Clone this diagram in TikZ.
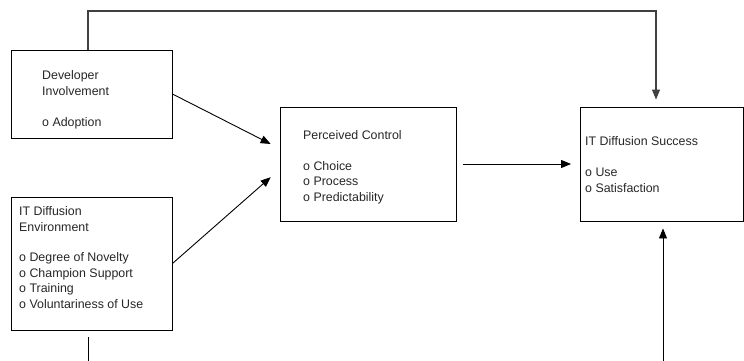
\documentclass[tikz,border=0pt]{standalone}
\usepackage{fontspec}
\setmainfont{Liberation Sans}
\usetikzlibrary{arrows.meta,calc}

\begin{document}
\begin{tikzpicture}[x=1pt,y=-1pt,
  box/.style={draw=black,line width=0.9pt,inner sep=0pt,rectangle},
  lbl/.style={inner sep=0pt,anchor=base west,align=left,text=black!85,
    font=\fontsize{12.4}{15.4}\selectfont},
  conn/.style={draw=black,line width=0.9pt},
  tip/.style={-{Triangle[length=10pt,width=8pt]}}
]
\useasboundingbox (0,0) rectangle (744,360);
\clip (0,0) rectangle (744,360);

% boxes
\node[box,minimum width=161pt,minimum height=88pt]  (dev)  at (91.5,94) {};
\node[box,minimum width=161pt,minimum height=133pt] (env)  at (91.5,263.5) {};
\node[box,minimum width=176pt,minimum height=114pt] (pc)   at (368,164) {};
\node[box,minimum width=163pt,minimum height=114pt] (succ) at (662,164) {};

% box texts (anchored at the baseline of their last line)
\node[lbl] (devtxt) at (42,126) {Developer\\Involvement\\[15.4pt]o Adoption};
\node[lbl] (envtxt) at (19,308) {IT Diffusion\\Environment\\[15.4pt]o Degree of Novelty\\o Champion Support\\o Training\\o Voluntariness of Use};
\node[lbl] (pctxt) at (303,201) {Perceived Control\\[15.4pt]o Choice\\o Process\\o Predictability};
\node[lbl] (succtxt) at (585,192) {IT Diffusion Success\\[15.4pt]o Use\\o Satisfaction};

% routing points
\coordinate (tl) at (88,11);
\coordinate (tr) at (656,11);
\coordinate (bl) at (88,380);
\coordinate (br) at (663,380);

% connectors
\draw[conn,tip,shorten >=10pt] (dev.east) -- ($(pc.west)+(0,-15.5)$);
\draw[conn,tip,shorten >=11.8pt] (env.east) -- ($(pc.west)+(0,5.4)$);
\draw[conn,tip,shorten <=7pt,shorten >=9pt] (pc.east) -- (succ.west);
\draw[conn,tip,line width=1.1pt,draw=black!75,shorten >=7pt]
  (dev.north -| tl) -- (tl) -- (tr) -- (succ.north -| tr);
\draw[conn,tip,shorten <=7pt,shorten >=7pt]
  (env.south -| bl) -- (bl) -- (br) -- (succ.south -| br);
\end{tikzpicture}
\end{document}
